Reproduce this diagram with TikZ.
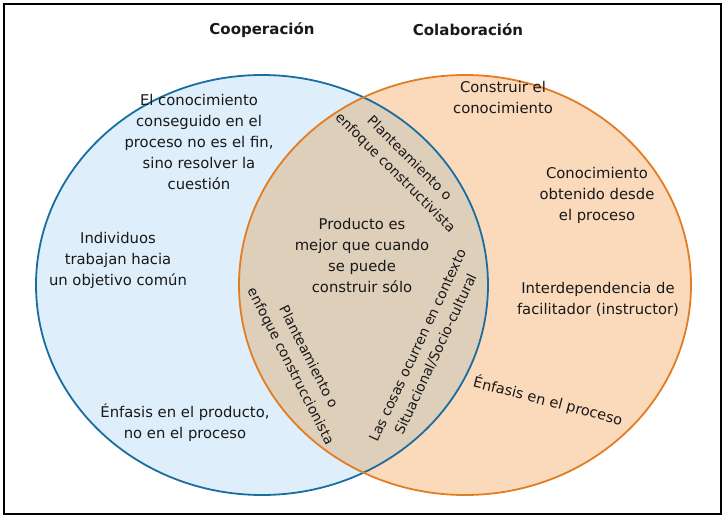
\documentclass[tikz,border=0pt]{standalone}
\usepackage{fontspec}
\setmainfont{DejaVu Sans}
\usetikzlibrary{positioning}
\definecolor{coopBlue}   {RGB}{25, 110, 160}
\definecolor{coopFill}   {RGB}{222,238,250}
\definecolor{colabOrange}{RGB}{226,125, 35}
\definecolor{colabFill}  {RGB}{251,218,188}
\definecolor{lensFill}   {RGB}{222,207,186}

\begin{document}
\begin{tikzpicture}[x=1pt,y=-1pt,
          txt/.style={align=center,text=black!90,
                      font=\fontsize{14.8}{21}\selectfont},
          giro/.style={txt,font=\fontsize{13.8}{20}\selectfont},
          titulo/.style={text=black!90,font=\bfseries\fontsize{15}{17}\selectfont},
          borde/.style={line width=1.8pt},
        ]
        \useasboundingbox (0,0) rectangle (726,519);
        % Marco
        \draw[line width=2.5pt] (4,4) rectangle (721,514);
        % Circulos
        \fill[coopFill]  (262,285) ellipse [x radius=226,y radius=210];
        \fill[colabFill] (465,285) ellipse [x radius=226,y radius=210];
        \begin{scope}
          \clip (262,285) ellipse [x radius=226,y radius=210];
          \fill[lensFill] (465,285) ellipse [x radius=226,y radius=210];
        \end{scope}
        \draw[borde,coopBlue]    (262,285) ellipse [x radius=226,y radius=210];
        \draw[borde,colabOrange] (465,285) ellipse [x radius=226,y radius=210];

        % Titulos
        \node[titulo] (coop)  at (262,30) {Cooperación};
        \node[titulo] (colab) at (468,30) {Colaboración};

        % Cooperacion
        \node[txt] (fin)   at (199,142) {El conocimiento\\conseguido en el\\proceso no es el fin,\\sino resolver la\\cuestión};
        \node[txt] (indiv) at (118,260) {Individuos\\trabajan hacia\\un objetivo común};
        \node[txt] (prod)  at (185,423) {Énfasis en el producto,\\no en el proceso};

        % Interseccion
        \node[txt] (mejor) at (362,255) {Producto es\\mejor que cuando\\se puede\\construir sólo};
        \node[giro,rotate=-45] (constr)  at (402,166) {Planteamiento o\\enfoque constructivista};
        \node[giro,rotate=-63] (constrc) at (299,362) {Planteamiento o\\enfoque construccionista};
        \node[giro,rotate=65]  (ctx)     at (427,350) {Las cosas ocurren en contexto\\Situacional/Socio-cultural};

        % Colaboracion
        \node[txt] (constru) at (503,97)  {Construir el\\conocimiento};
        \node[txt] (obten)   at (597,195) {Conocimiento\\obtenido desde\\el proceso};
        \node[txt] (interd)  at (598,299) {Interdependencia de\\facilitador (instructor)};
        \node[giro,font=\fontsize{14.5}{20}\selectfont,rotate=-14.5] (proc) at (548,401) {Énfasis en el proceso};
      \end{tikzpicture}
\end{document}
